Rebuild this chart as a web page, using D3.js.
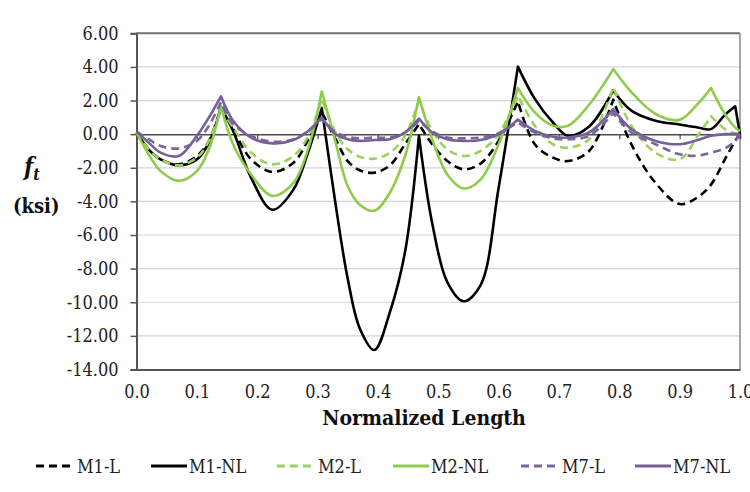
<!DOCTYPE html>
<html>
<head>
<meta charset="utf-8">
<script src="https://cdn.jsdelivr.net/npm/d3@7"></script>
<style>
  html, body { margin: 0; padding: 0; background: #fff; }
  svg { display: block; }
</style>
</head>
<body>
<svg id="chart" width="750" height="492"></svg>
<script>
// Normalized positions along the girder
const positions = [0, 0.02, 0.04, 0.07, 0.10, 0.12, 0.14, 0.16, 0.19, 0.225, 0.26, 0.285, 0.307,
  0.33, 0.35, 0.37, 0.394, 0.42, 0.445, 0.468, 0.49, 0.515, 0.542, 0.57, 0.60, 0.632,
  0.66, 0.69, 0.715, 0.75, 0.79, 0.82, 0.86, 0.90, 0.93, 0.952, 0.975, 0.992, 1.0];

// Stress f_t (ksi) for each model
const m1L  = [0.1, -0.9, -1.5, -1.8, -1.3, -0.4, 1.6, 0.3, -1.5, -2.25, -1.7, -0.3, 1.3,
  -0.3, -1.6, -2.15, -2.29, -1.85, -0.6, 0.6, -0.6, -1.6, -2.09, -1.75, -0.4, 1.95,
  -0.6, -1.4, -1.6, -1.0, 2.05, -0.6, -2.9, -4.16, -3.75, -3.0, -1.5, -0.4, 0.0];
const m1NL = [0.1, -0.9, -1.5, -1.85, -1.5, -0.5, 1.6, 0.2, -2.6, -4.5, -3.3, -1.0, 1.55,
  -4.2, -8.6, -11.56, -12.84, -10.57, -7.0, -0.1, -5.3, -8.8, -9.94, -9.0, -3.2, 4.02,
  2.1, 0.7, -0.1, 0.45, 2.6, 1.4, 0.8, 0.57, 0.4, 0.3, 1.15, 1.66, 0.0];
const m2L  = [0.1, -0.9, -1.5, -1.85, -1.4, -0.4, 1.5, 0.4, -1.1, -1.8, -1.3, -0.1, 2.1,
  0.1, -0.9, -1.35, -1.46, -1.1, -0.1, 2.0, 0.2, -0.9, -1.3, -1.0, 0.0, 2.3,
  0.5, -0.6, -0.8, -0.3, 2.8, 0.5, -1.1, -1.5, -0.1, 1.07, 0.3, 0.05, 0.0];
const m2NL = [0.1, -1.2, -2.2, -2.78, -2.2, -0.9, 1.66, -0.6, -2.4, -3.67, -2.9, -0.8, 2.54,
  -0.5, -3.1, -4.2, -4.56, -3.47, -1.3, 2.21, -0.3, -2.4, -3.23, -2.7, -0.6, 2.74,
  1.3, 0.5, 0.5, 1.75, 3.87, 2.5, 1.2, 0.85, 1.8, 2.74, 1.2, 0.4, 0.18];
const m7L  = [0.15, -0.3, -0.7, -0.85, -0.4, 0.5, 1.9, 0.6, -0.1, -0.45, -0.3, 0.2, 0.9,
  0.1, -0.15, -0.25, -0.2, -0.2, 0.1, 0.8, 0.15, -0.2, -0.25, -0.2, 0.05, 0.7,
  0.1, -0.25, -0.3, -0.1, 1.25, 0.1, -0.6, -1.2, -1.28, -1.1, -0.85, -0.4, 0.0];
const m7NL = [0.15, -0.5, -1.1, -1.3, -0.1, 1.0, 2.25, 0.8, -0.2, -0.55, -0.35, 0.2, 1.0,
  0.0, -0.3, -0.4, -0.35, -0.3, 0.1, 0.93, 0.1, -0.3, -0.4, -0.35, 0.0, 0.87,
  0.2, -0.15, -0.2, 0.1, 1.5, 0.3, -0.4, -0.6, -0.35, -0.1, 0.0, 0.0, 0.0];

const seriesNames = ["M1-L", "M1-NL", "M2-L", "M2-NL", "M7-L", "M7-NL"];
const seriesValues = [m1L, m1NL, m2L, m2NL, m7L, m7NL];

const xTicks = [0, 0.1, 0.2, 0.3, 0.4, 0.5, 0.6, 0.7, 0.8, 0.9, 1.0];
const yTicks = [6, 4, 2, 0, -2, -4, -6, -8, -10, -12, -14];

// Line styling per series
const styles = [
  { color: "#000000", dash: "8,5" },
  { color: "#000000", dash: null },
  { color: "#9cd25a", dash: "8,5" },
  { color: "#8fcb4e", dash: null },
  { color: "#7a6699", dash: "8,5" },
  { color: "#75609a", dash: null }
];

const FONT = "'DejaVu Serif Condensed', 'DejaVu Serif', serif";
const svg = d3.select("#chart");
const plotLeft = 136.5, plotRight = 740, plotTop = 33.3, plotBottom = 369.5;

const x = d3.scaleLinear().domain([0, 1]).range([plotLeft, plotRight]);
const y = d3.scaleLinear().domain([-14, 6]).range([plotBottom, plotTop]);

// Horizontal gridlines
svg.append("g")
  .selectAll("line")
  .data(yTicks.filter(v => v !== 0 && v !== 6 && v !== -14))
  .join("line")
  .attr("x1", plotLeft).attr("x2", plotRight)
  .attr("y1", d => y(d)).attr("y2", d => y(d))
  .attr("stroke", "#d4d4d4").attr("stroke-width", 1.2);

// Plot frame (top and right)
svg.append("line").attr("x1", plotLeft).attr("x2", plotRight).attr("y1", plotTop).attr("y2", plotTop)
  .attr("stroke", "#6f6f6f").attr("stroke-width", 2);
svg.append("line").attr("x1", plotRight).attr("x2", plotRight).attr("y1", plotTop).attr("y2", plotBottom)
  .attr("stroke", "#8a8a8a").attr("stroke-width", 1.5);

// Y axis
const yAxis = d3.axisLeft(y).tickValues(yTicks).tickSize(6).tickPadding(12)
  .tickFormat(d => d.toFixed(2));
const gy = svg.append("g").attr("transform", `translate(${plotLeft},0)`).call(yAxis)
  .attr("font-family", FONT).attr("font-size", 18);
gy.select(".domain").attr("stroke", "#555").attr("stroke-width", 2);
gy.selectAll(".tick line").attr("stroke", "#555").attr("stroke-width", 1.5);
gy.selectAll(".tick text").attr("fill", "#222");

// Bottom axis line with labels
const xAxis = d3.axisBottom(x).tickValues(xTicks).tickSize(0).tickPadding(16)
  .tickFormat(d => d.toFixed(1));
const gx = svg.append("g").attr("transform", `translate(0,${plotBottom})`).call(xAxis)
  .attr("font-family", FONT).attr("font-size", 18);
gx.select(".domain").attr("stroke", "#555").attr("stroke-width", 2);
gx.selectAll(".tick text").attr("fill", "#222");

// Zero line carrying the category tick marks
const gz = svg.append("g").attr("transform", `translate(0,${y(0)})`)
  .call(d3.axisBottom(x).tickValues(xTicks).tickSize(5).tickFormat(""));
gz.select(".domain").attr("stroke", "#4a4a4a").attr("stroke-width", 1.5);
gz.selectAll(".tick line").attr("stroke", "#4a4a4a").attr("stroke-width", 1.2);

// Each series is smooth between supports and peaks sharply at them:
// split at local maxima and draw every span with its own spline.
const spanLine = d3.line()
  .x(d => x(d[0]))
  .y(d => y(d[1]))
  .curve(d3.curveCatmullRom.alpha(0.5));

function seriesPath(values) {
  const pts = values.map((v, i) => [positions[i], v]);
  const cuts = [0];
  for (let i = 1; i < pts.length - 1; i++) {
    if (values[i] > values[i - 1] && values[i] > values[i + 1]) cuts.push(i);
  }
  cuts.push(pts.length - 1);
  let d = "";
  for (let k = 0; k < cuts.length - 1; k++) {
    const seg = spanLine(pts.slice(cuts[k], cuts[k + 1] + 1));
    d += k === 0 ? seg : "L" + seg.slice(1);
  }
  return d;
}

svg.append("g")
  .selectAll("path")
  .data(seriesValues)
  .join("path")
  .attr("d", d => seriesPath(d))
  .attr("fill", "none")
  .attr("stroke", (d, i) => styles[i].color)
  .attr("stroke-width", 2.6)
  .attr("stroke-linejoin", "round")
  .attr("stroke-dasharray", (d, i) => styles[i].dash);

// Axis titles
svg.append("text")
  .attr("x", 424).attr("y", 425)
  .attr("text-anchor", "middle")
  .attr("font-family", FONT)
  .attr("font-size", 21).attr("font-weight", "bold").attr("fill", "#111")
  .text("Normalized Length");

const ft = svg.append("text").attr("x", 24).attr("y", 175)
  .attr("font-family", FONT)
  .attr("font-size", 24).attr("font-weight", "bold").attr("font-style", "italic").attr("fill", "#111");
ft.append("tspan").text("f");
ft.append("tspan").attr("font-size", 16).attr("dy", 5).text("t");

svg.append("text")
  .attr("x", 13).attr("y", 213)
  .attr("font-family", FONT)
  .attr("font-size", 20).attr("font-weight", "bold").attr("fill", "#111")
  .text("(ksi)");

// Legend
const legendX = [36, 151, 277, 393, 521, 635];
const legendY = 466;
const lg = svg.append("g")
  .attr("font-family", FONT)
  .selectAll("g")
  .data(seriesNames)
  .join("g")
  .attr("transform", (d, i) => `translate(${legendX[i]},${legendY})`);
lg.append("line")
  .attr("x1", 0).attr("x2", 36).attr("y1", 0).attr("y2", 0)
  .attr("stroke", (d, i) => styles[i].color)
  .attr("stroke-width", 3)
  .attr("stroke-dasharray", (d, i) => styles[i].dash ? "8,5" : null);
lg.append("text")
  .attr("x", (d, i) => styles[i].dash ? 41 : 38)
  .attr("y", 7)
  .attr("font-size", 18).attr("fill", "#222")
  .text(d => d);
</script>
</body>
</html>
